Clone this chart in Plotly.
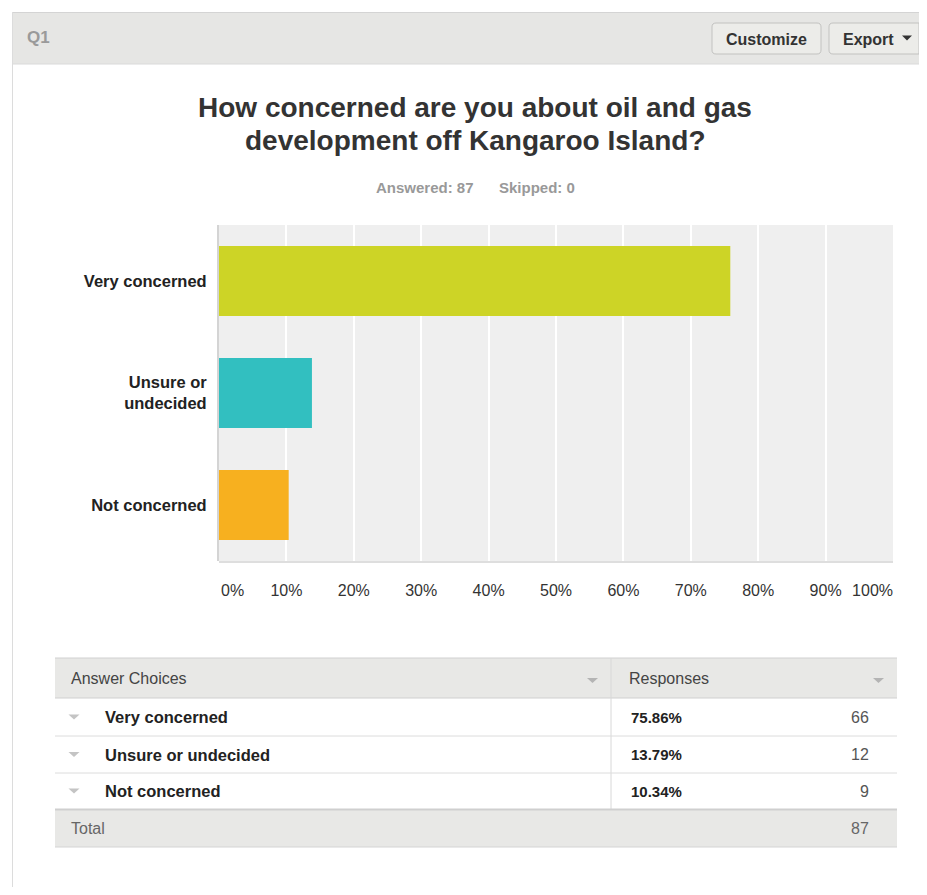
import plotly.graph_objects as go

# page is 927x895 with an 8px body margin -> figure fills the rest exactly
W, H = 911, 879
OFF = 8
XMAX, YMAX = OFF + W, OFF + H

# ---- data ----
categories = ["Very concerned", "Unsure or<br>undecided", "Not concerned"]
table_labels = ["Very concerned", "Unsure or undecided", "Not concerned"]
percents = [75.86, 13.79, 10.34]
counts = [66, 12, 9]
total = 87
skipped = 0
bar_colors = ["#cdd426", "#32bfc0", "#f7b01f"]
tick_vals = [0, 10, 20, 30, 40, 50, 60, 70, 80, 90, 100]
tick_text = [f"{v}%" for v in tick_vals]

FONT = "Arial, Liberation Sans, Helvetica, sans-serif"

def px(x):
    x = min(max(x, OFF), XMAX)
    return (x - OFF) / W

def py(y):
    y = min(max(y, OFF), YMAX)
    return 1 - (y - OFF) / H

fig = go.Figure()
fig.add_trace(go.Bar(
    y=categories, x=percents, orientation="h",
    marker=dict(color=bar_colors, line=dict(width=0)),
    hoverinfo="skip", showlegend=False,
))
# invisible helper traces so the end tick labels can be aligned inward
fig.add_trace(go.Scatter(x=[tick_vals[0]], y=[categories[0]], xaxis="x2", yaxis="y",
                         mode="markers", marker=dict(opacity=0), hoverinfo="skip", showlegend=False))
fig.add_trace(go.Scatter(x=[tick_vals[-1]], y=[categories[0]], xaxis="x3", yaxis="y",
                         mode="markers", marker=dict(opacity=0), hoverinfo="skip", showlegend=False))

shapes = []
annots = []

def rect(x0, y0, x1, y1, fill, line=None, lw=1, layer="below"):
    shapes.append(dict(type="rect", xref="paper", yref="paper",
                       x0=px(x0), x1=px(x1), y0=py(y1), y1=py(y0),
                       fillcolor=fill, layer=layer,
                       line=dict(color=line or "rgba(0,0,0,0)", width=lw if line else 0)))

def path(points_cmds, fill, line=None, lw=1, layer="above"):
    shapes.append(dict(type="path", xref="paper", yref="paper", path=points_cmds,
                       fillcolor=fill, layer=layer,
                       line=dict(color=line or "rgba(0,0,0,0)", width=lw if line else 0)))

def P(x, y):
    return f"{px(x):.6f},{py(y):.6f}"

def rounded(x0, y0, x1, y1, r, fill, line):
    d = (f"M{P(x0 + r, y0)} L{P(x1 - r, y0)} Q{P(x1, y0)} {P(x1, y0 + r)} "
         f"L{P(x1, y1 - r)} Q{P(x1, y1)} {P(x1 - r, y1)} L{P(x0 + r, y1)} "
         f"Q{P(x0, y1)} {P(x0, y1 - r)} L{P(x0, y0 + r)} Q{P(x0, y0)} {P(x0 + r, y0)} Z")
    path(d, fill, line, 1)

def tri(cx, cy, w, h, color):
    d = f"M{P(cx - w / 2, cy - h / 2)} L{P(cx + w / 2, cy - h / 2)} L{P(cx, cy + h / 2)} Z"
    path(d, color)

def hline(x0, x1, y, color, lw=1, layer="above"):
    shapes.append(dict(type="line", xref="paper", yref="paper",
                       x0=px(x0), x1=px(x1), y0=py(y), y1=py(y),
                       line=dict(color=color, width=lw), layer=layer))

def vline(x, y0, y1, color, lw=1, layer="above"):
    shapes.append(dict(type="line", xref="paper", yref="paper",
                       x0=px(x), x1=px(x), y0=py(y0), y1=py(y1),
                       line=dict(color=color, width=lw), layer=layer))

def text(x, y, s, size=15, color="#333", bold=False, xanchor="left"):
    if bold:
        s = f"<b>{s}</b>"
    annots.append(dict(xref="paper", yref="paper", x=px(x), y=py(y), text=s,
                       showarrow=False, xanchor=xanchor, yanchor="middle",
                       font=dict(family=FONT, size=size, color=color)))

# panel
rect(12, 12, XMAX, 64, "#e6e6e4")
hline(12, XMAX, 12.5, "#d4d4d4", 1)
hline(12, XMAX, 64, "#dadada", 1)
vline(12.5, 12, YMAX, "#dcdcdc", 1)
text(25, 38, "Q1", size=17, color="#9a9a9a", bold=True)

# buttons
rounded(712, 23, 821, 54, 4, "#ecece9", "#c2c2c0")
text(766.5, 39, "Customize", size=16, color="#333", bold=True, xanchor="center")
rounded(829, 23, 926, 54, 4, "#ecece9", "#c2c2c0")
text(868, 39, "Export", size=16, color="#333", bold=True, xanchor="center")
tri(907, 38, 10, 5, "#333")

# title
text(475, 108, "How concerned are you about oil and gas", size=28, color="#333", bold=True, xanchor="center")
text(475, 141, "development off Kangaroo Island?", size=28, color="#333", bold=True, xanchor="center")
text(425, 187, f"Answered: {total}", size=15, color="#999", bold=True, xanchor="center")
text(537, 187, f"Skipped: {skipped}", size=15, color="#999", bold=True, xanchor="center")

# plot bottom shadow
hline(219, 893, 562, "#dedede", 2)

# table
TX0, TX1, COLX = 55, 897, 611
rect(TX0, 658, TX1, 698, "#e8e8e6")
hline(TX0, TX1, 658, "#d0d0d0", 1)
hline(TX0, TX1, 698, "#d0d0d0", 1)
vline(COLX, 658, 809, "#d8d8d8", 1)
text(69, 678, "Answer Choices", size=16, color="#444")
tri(592.5, 680.5, 11, 5, "#b4b4b4")
text(627, 678, "Responses", size=16, color="#444")
tri(878.5, 680.5, 11, 5, "#b4b4b4")

row_tops = [698, 736, 773]
row_h = [38, 37, 36]
for i, lab in enumerate(table_labels):
    y0 = row_tops[i]
    yc = y0 + row_h[i] / 2
    if i > 0:
        hline(TX0, TX1, y0, "#dcdcdc", 1)
    tri(74, yc, 11, 5, "#c4c4c4")
    text(103, yc, lab, size=16.5, color="#222", bold=True)
    text(629, yc, f"{percents[i]:.2f}%", size=15, color="#222", bold=True)
    text(871, yc, str(counts[i]), size=16, color="#555", xanchor="right")

rect(TX0, 809, TX1, 847, "#e8e8e6")
hline(TX0, TX1, 809.5, "#cfcfcf", 2)
hline(TX0, TX1, 847, "#d4d4d4", 1)
text(69, 828, "Total", size=16, color="#666")
text(871, 828, str(total), size=16, color="#666", xanchor="right")

XDOM = [px(219), px(893)]
tickfont = dict(family=FONT, size=16, color="#333")
mid_text = [t if 0 < v < 100 else "" for v, t in zip(tick_vals, tick_text)]

fig.update_layout(
    width=W, height=H,
    margin=dict(l=0, r=0, t=0, b=0, pad=0, autoexpand=False),
    paper_bgcolor="white",
    plot_bgcolor="#efefef",
    bargap=0.375,
    shapes=shapes,
    annotations=annots,
    font=dict(family=FONT, color="#333"),
    xaxis=dict(
        domain=XDOM, range=[0, 100], tickvals=tick_vals, ticktext=mid_text,
        showgrid=True, gridcolor="#ffffff", gridwidth=2,
        zeroline=False, showline=False, ticks="",
        tickfont=tickfont, ticklabelstandoff=18, fixedrange=True, automargin=False,
    ),
    xaxis2=dict(
        overlaying="x", domain=XDOM, range=[0, 100], anchor="y", side="bottom",
        tickvals=[tick_vals[0]], ticktext=[tick_text[0]], ticklabelposition="outside right",
        ticklabelshift=2, showgrid=False, zeroline=False, showline=False, ticks="",
        tickfont=tickfont, ticklabelstandoff=18, fixedrange=True, automargin=False,
    ),
    xaxis3=dict(
        overlaying="x", domain=XDOM, range=[0, 100], anchor="y", side="bottom",
        tickvals=[tick_vals[-1]], ticktext=[tick_text[-1]], ticklabelposition="outside left",
        showgrid=False, zeroline=False, showline=False, ticks="",
        tickfont=tickfont, ticklabelstandoff=18, fixedrange=True, automargin=False,
    ),
    yaxis=dict(
        domain=[py(561), py(225)],
        autorange="reversed",
        showgrid=False, zeroline=False,
        showline=True, linecolor="#d4d4d4", linewidth=2,
        ticks="", ticklabelstandoff=7,
        tickfont=dict(family=FONT, size=16.5, color="#222", weight="bold"),
        fixedrange=True, automargin=False,
    ),
)

fig.write_html("out.html")
